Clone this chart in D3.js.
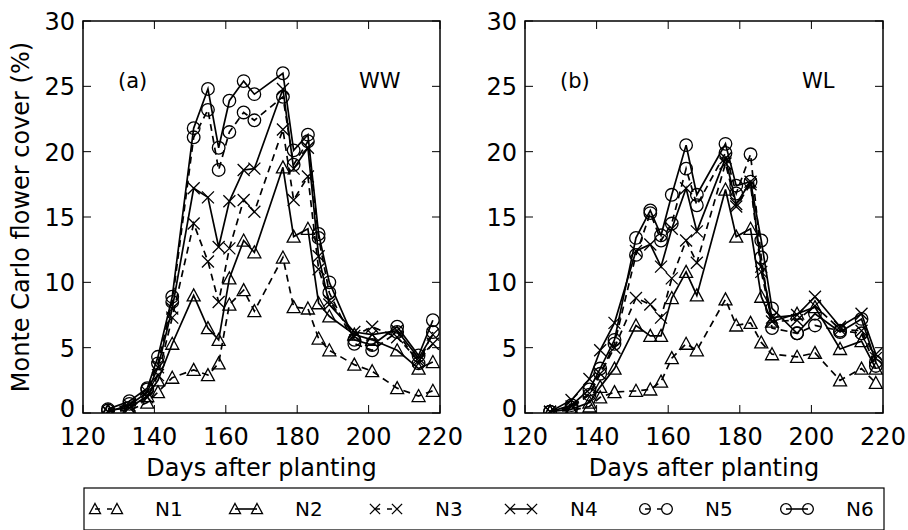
<!DOCTYPE html>
<html>
<head>
<meta charset="utf-8">
<script src="https://cdn.jsdelivr.net/npm/d3@7"></script>
<style>
  body { margin: 0; background: #fff; }
  svg { display: block; font-family: "DejaVu Sans", sans-serif; }
  .tick-label { font-size: 24px; fill: #000; }
  .axis-label { font-size: 24px; fill: #000; }
  .panel-label { font-size: 21px; fill: #000; }
  .legend-label { font-size: 20px; fill: #000; }
</style>
</head>
<body>
<svg id="chart" width="908" height="530"></svg>
<script>
// Sampling dates (days after planting)
const days = [127, 133, 138, 141, 145, 151, 155, 158, 161, 165, 168, 176, 179, 183, 186, 189, 196, 201, 208, 214, 218];

// Panel (a) WW
const wwN1 = [0.1, 0.2, 0.8, 1.6, 2.7, 3.3, 2.9, 3.8, 8.3, 9.4, 7.8, 11.9, 8.1, 8.0, 5.7, 4.8, 3.7, 3.2, 1.9, 1.3, 1.7];
const wwN2 = [0.2, 0.4, 1.3, 2.5, 5.3, 9.0, 6.5, 5.6, 10.3, 13.2, 12.3, 18.8, 13.5, 14.1, 8.4, 7.4, 6.0, 5.6, 4.8, 3.4, 3.9];
const wwN3 = [0.1, 0.4, 1.2, 2.9, 7.3, 14.5, 11.6, 8.5, 12.6, 16.3, 15.4, 21.7, 16.3, 18.1, 11.0, 8.6, 5.9, 6.6, 5.8, 4.0, 5.3];
const wwN4 = [0.1, 0.6, 1.6, 3.5, 8.0, 17.2, 16.5, 12.7, 16.2, 18.6, 18.7, 24.8, 18.7, 20.3, 12.0, 8.3, 6.2, 6.0, 6.3, 4.2, 6.0];
const wwN5 = [0.2, 0.7, 1.8, 3.8, 8.5, 21.1, 23.2, 18.6, 21.5, 23.0, 22.4, 24.2, 19.0, 20.8, 13.4, 9.2, 5.3, 4.8, 6.2, 3.8, 6.2];
const wwN6 = [0.3, 0.9, 1.9, 4.3, 8.9, 21.8, 24.8, 20.3, 23.9, 25.4, 24.4, 26.0, 20.1, 21.3, 13.7, 10.0, 5.6, 5.2, 6.6, 4.4, 7.1];

// Panel (b) WL
const wlN1 = [0.1, 0.2, 0.5, 1.2, 1.6, 1.7, 1.8, 2.4, 4.2, 5.3, 4.8, 8.7, 6.7, 6.9, 5.4, 4.5, 4.3, 4.6, 2.5, 3.4, 2.3];
const wlN2 = [0.1, 0.3, 0.8, 2.0, 3.4, 6.7, 5.9, 5.9, 8.8, 10.8, 9.0, 17.1, 13.5, 14.1, 8.9, 7.0, 7.6, 8.1, 4.9, 5.5, 3.4];
const wlN3 = [0.1, 0.5, 1.5, 3.0, 5.0, 8.8, 8.3, 7.3, 10.3, 13.2, 11.5, 19.1, 15.8, 17.5, 10.8, 7.0, 7.1, 8.2, 6.4, 6.3, 4.2];
const wlN4 = [0.1, 1.0, 2.6, 4.8, 6.9, 12.4, 12.9, 11.2, 14.1, 17.2, 13.9, 19.5, 16.0, 17.7, 11.2, 7.3, 7.5, 8.9, 6.6, 7.6, 4.5];
const wlN5 = [0.1, 0.4, 1.4, 3.0, 5.3, 12.1, 15.3, 13.2, 14.5, 18.7, 15.9, 19.9, 16.8, 19.8, 11.9, 6.5, 6.1, 6.7, 6.3, 6.1, 3.6];
const wlN6 = [0.1, 0.6, 1.8, 3.4, 5.6, 13.4, 15.5, 13.6, 16.7, 20.5, 16.7, 20.6, 17.4, 17.7, 13.2, 8.0, 6.1, 7.6, 6.2, 7.2, 3.9];

const seriesNames = ["N1", "N2", "N3", "N4", "N5", "N6"];
const xTicks = [120, 140, 160, 180, 200, 220];
const yTicks = [0, 5, 10, 15, 20, 25, 30];

// style per series: dashed for odd N levels, marker by pair
const styles = {
  N1: { dash: "7,5", marker: "triangle" },
  N2: { dash: null, marker: "triangle" },
  N3: { dash: "7,5", marker: "x" },
  N4: { dash: null, marker: "x" },
  N5: { dash: "7,5", marker: "circle" },
  N6: { dash: null, marker: "circle" }
};

const panels = [
  { left: 83, right: 440, tag: "(a)", trt: "WW", data: [wwN1, wwN2, wwN3, wwN4, wwN5, wwN6] },
  { left: 525, right: 883, tag: "(b)", trt: "WL", data: [wlN1, wlN2, wlN3, wlN4, wlN5, wlN6] }
];
const plotTop = 21, plotBottom = 413;

const svg = d3.select("#chart");

function drawMarker(g, type, cx, cy, sz = 1) {
  if (type === "circle") {
    g.append("circle").attr("cx", cx).attr("cy", cy).attr("r", 6.3 * sz)
      .attr("fill", "none").attr("stroke", "#000").attr("stroke-width", 1.3);
  } else if (type === "triangle") {
    const s = 6.5 * sz;
    g.append("path")
      .attr("d", `M${cx},${cy - s}L${cx + s},${cy + s * 0.85}L${cx - s},${cy + s * 0.85}Z`)
      .attr("fill", "none").attr("stroke", "#000").attr("stroke-width", 1.3);
  } else {
    const s = 6 * sz;
    g.append("path")
      .attr("d", `M${cx - s},${cy - s}L${cx + s},${cy + s}M${cx - s},${cy + s}L${cx + s},${cy - s}`)
      .attr("fill", "none").attr("stroke", "#000").attr("stroke-width", 1.3);
  }
}

panels.forEach(p => {
  const x = d3.scaleLinear().domain([120, 220]).range([p.left, p.right]);
  const y = d3.scaleLinear().domain([0, 30]).range([plotBottom, plotTop]);
  const g = svg.append("g");

  const clip = "clip-" + p.trt;
  svg.append("clipPath").attr("id", clip)
    .append("rect").attr("x", p.left).attr("y", plotTop).attr("width", p.right - p.left).attr("height", plotBottom - plotTop);

  const plot = g.append("g").attr("clip-path", `url(#${clip})`);
  const line = d3.line().x(d => x(d[0])).y(d => y(d[1]));

  p.data.forEach((vals, i) => {
    const st = styles[seriesNames[i]];
    const pts = days.map((d, k) => [d, vals[k]]);
    plot.append("path")
      .attr("d", line(pts))
      .attr("fill", "none")
      .attr("stroke", "#000")
      .attr("stroke-width", 1.7)
      .attr("stroke-dasharray", st.dash);
    pts.forEach(pt => drawMarker(plot, st.marker, x(pt[0]), y(pt[1])));
  });

  // frame
  g.append("rect")
    .attr("x", p.left).attr("y", plotTop)
    .attr("width", p.right - p.left).attr("height", plotBottom - plotTop)
    .attr("fill", "none").attr("stroke", "#000").attr("stroke-width", 1.5);

  // inward ticks on all four sides
  const tl = 8;
  xTicks.forEach(t => {
    g.append("line").attr("x1", x(t)).attr("x2", x(t)).attr("y1", plotBottom).attr("y2", plotBottom - tl).attr("stroke", "#000");
    g.append("line").attr("x1", x(t)).attr("x2", x(t)).attr("y1", plotTop).attr("y2", plotTop + tl).attr("stroke", "#000");
    g.append("text").attr("class", "tick-label")
      .attr("x", x(t)).attr("y", plotBottom + 32).attr("text-anchor", "middle").text(t);
  });
  yTicks.forEach(t => {
    g.append("line").attr("x1", p.left).attr("x2", p.left + tl).attr("y1", y(t)).attr("y2", y(t)).attr("stroke", "#000");
    g.append("line").attr("x1", p.right).attr("x2", p.right - tl).attr("y1", y(t)).attr("y2", y(t)).attr("stroke", "#000");
    g.append("text").attr("class", "tick-label")
      .attr("x", p.left - 8).attr("y", y(t) + (t === 0 ? 4 : 9)).attr("text-anchor", "end").text(t);
  });

  g.append("text").attr("class", "panel-label")
    .attr("x", x(120) + 35).attr("y", y(24.9)).text(p.tag);
  g.append("text").attr("class", "panel-label")
    .attr("x", x(220) - 81).attr("y", y(24.9)).text(p.trt);

  g.append("text").attr("class", "axis-label")
    .attr("x", (p.left + p.right) / 2).attr("y", 476)
    .attr("text-anchor", "middle").text("Days after planting");
});

// y-axis title
svg.append("text").attr("class", "axis-label")
  .attr("transform", `translate(29,${(plotTop + plotBottom) / 2}) rotate(-90)`)
  .attr("text-anchor", "middle")
  .text("Monte Carlo flower cover (%)");

// legend
const lg = svg.append("g");
lg.append("rect").attr("x", 84).attr("y", 488).attr("width", 800).attr("height", 42)
  .attr("fill", "#fff").attr("stroke", "#000").attr("stroke-width", 1.2);
const legendX = [95, 235, 375, 510, 645, 786];
seriesNames.forEach((n, i) => {
  const st = styles[n];
  const x0 = legendX[i], x1 = x0 + 22, yy = 509;
  lg.append("line").attr("x1", x0).attr("x2", x1).attr("y1", yy).attr("y2", yy)
    .attr("stroke", "#000").attr("stroke-width", 1.6).attr("stroke-dasharray", st.dash ? "5,7" : null);
  drawMarker(lg, st.marker, x0, yy, 0.85);
  drawMarker(lg, st.marker, x1, yy, 0.85);
  lg.append("text").attr("class", "legend-label")
    .attr("x", x1 + 38).attr("y", yy + 7).text(n);
});
</script>
</body>
</html>
